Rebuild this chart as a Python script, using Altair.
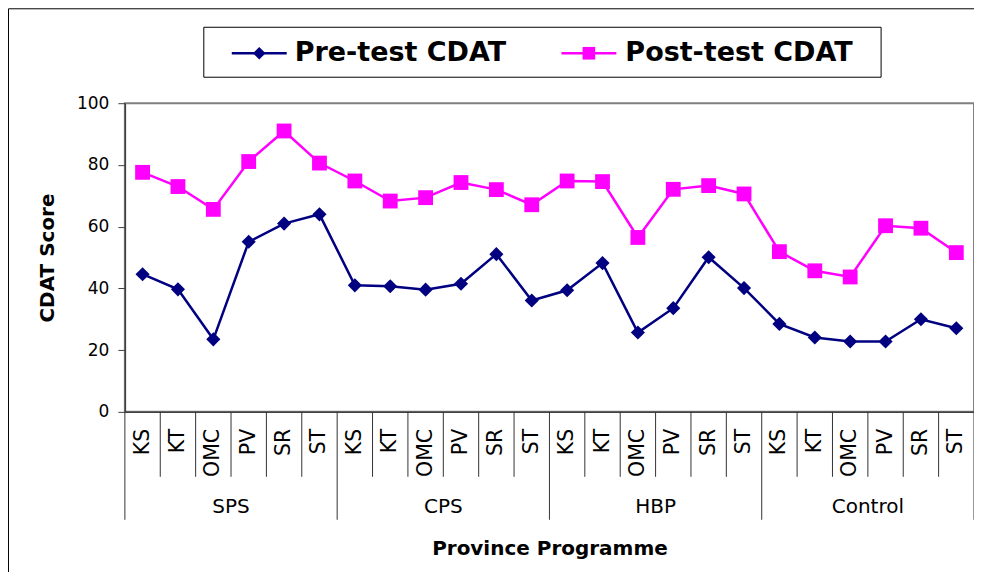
import altair as alt
import pandas as pd

# ---------------- data ----------------
groups = ["SPS", "CPS", "HBP", "Control"]
subcats = ["KS", "KT", "OMC", "PV", "SR", "ST"]
series_names = ["Pre-test CDAT", "Post-test CDAT"]
series_colors = ["#000080", "#FF00FF"]

pre = [44.6, 39.7, 23.5, 55.1, 61.0, 64.0,
       41.0, 40.7, 39.6, 41.5, 51.1, 36.1,
       39.4, 48.2, 25.7, 33.6, 50.1, 40.1,
       28.5, 24.1, 22.8, 22.8, 30.0, 27.1]
post = [77.6, 73.0, 65.6, 81.1, 91.0, 80.6,
        74.8, 68.3, 69.4, 74.3, 72.0, 67.1,
        74.8, 74.6, 56.5, 72.1, 73.3, 70.6,
        51.9, 45.7, 43.7, 60.3, 59.5, 51.6]

y_ticks = [0, 20, 40, 60, 80, 100]
x_title = "Province Programme"
y_title = "CDAT Score"

# ---------------- tables built from the lists ----------------
n_sub = len(subcats)
n_cat = len(groups) * n_sub
rows = []
for gi, g in enumerate(groups):
    for si, s in enumerate(subcats):
        idx = gi * n_sub + si
        rows.append({"idx": idx, "pos": idx + 0.5, "group": g, "sub": s})
cats = pd.DataFrame(rows)

long = pd.concat([
    cats.assign(series=series_names[0], value=pre),
    cats.assign(series=series_names[1], value=post),
], ignore_index=True)

group_df = pd.DataFrame({
    "group": groups,
    "center": [(gi + 0.5) * n_sub for gi in range(len(groups))],
})
bounds = pd.DataFrame({"b": list(range(0, n_cat + 1))})
bounds["major"] = bounds["b"] % n_sub == 0

FONT = "DejaVu Sans"
W, H = 850, 309

xs = alt.Scale(domain=[0, n_cat], nice=False, zero=False)
xaxis = alt.Axis(
    title=x_title, labels=False, ticks=False, grid=False,
    domainColor="#404040", domainWidth=1.5,
    titleFont=FONT, titleFontSize=20, titleFontWeight="bold", titleColor="black",
    titleY=137, titleBaseline="middle",
)
yaxis = alt.Axis(
    title=y_title, values=y_ticks, grid=False,
    tickSize=7, tickColor="#404040", tickWidth=1,
    domainColor="#404040", domainWidth=1.5,
    labelFont=FONT, labelFontSize=17, labelColor="black", labelPadding=9,
    titleFont=FONT, titleFontSize=20, titleFontWeight="bold", titleColor="black",
    titleX=-77, titleY=H / 2, titleAngle=270, titleBaseline="middle", titleAlign="center",
)
color_scale = alt.Scale(domain=series_names, range=series_colors)
yscale = alt.Scale(domain=[0, 100], nice=False)

base = alt.Chart(long)

lines = base.mark_line(strokeWidth=2.5).encode(
    x=alt.X("pos:Q", scale=xs, axis=xaxis),
    y=alt.Y("value:Q", scale=yscale, axis=yaxis),
    color=alt.Color("series:N", scale=color_scale, legend=None),
    detail="series:N",
)
pts_pre = base.transform_filter(alt.datum.series == series_names[0]).mark_point(
    shape="diamond", filled=True, size=200, opacity=1
).encode(
    x=alt.X("pos:Q", scale=xs, axis=xaxis),
    y=alt.Y("value:Q", scale=yscale, axis=yaxis),
    color=alt.Color("series:N", scale=color_scale, legend=None),
)
pts_post = base.transform_filter(alt.datum.series == series_names[1]).mark_point(
    shape="square", filled=True, size=220, opacity=1
).encode(
    x=alt.X("pos:Q", scale=xs, axis=xaxis),
    y=alt.Y("value:Q", scale=yscale, axis=yaxis),
    color=alt.Color("series:N", scale=color_scale, legend=None),
)

# x category labels (two levels) and separators
sub_labels = alt.Chart(cats).mark_text(
    angle=270, align="right", baseline="middle", font=FONT, fontSize=20.5, color="black"
).encode(
    x=alt.X("pos:Q", scale=xs, axis=xaxis),
    y=alt.value(326),
    text="sub:N",
)
grp_labels = alt.Chart(group_df).mark_text(
    align="center", baseline="middle", font=FONT, fontSize=20, color="black"
).encode(
    x=alt.X("center:Q", scale=xs, axis=xaxis),
    y=alt.value(404),
    text="group:N",
)
minor_sep = alt.Chart(bounds).transform_filter("!datum.major").mark_rule(
    color="#333333", strokeWidth=1
).encode(
    x=alt.X("b:Q", scale=xs, axis=xaxis),
    y=alt.value(H), y2=alt.value(374),
)
major_sep = alt.Chart(bounds).transform_filter("datum.major").mark_rule(
    color="#333333", strokeWidth=1
).encode(
    x=alt.X("b:Q", scale=xs, axis=xaxis),
    y=alt.value(H), y2=alt.value(417),
)

# manual legend
one = pd.DataFrame({"k": [0]})
leg_box = alt.Chart(one).mark_rect(fill="white", stroke="black", strokeWidth=1).encode(
    x=alt.value(79), x2=alt.value(757), y=alt.value(-76), y2=alt.value(-26)
)
legend_layers = [leg_box]
leg_line_x = [(107, 162), (437, 492)]
leg_text_x = [170, 501]
leg_shapes = ["diamond", "square"]
leg_sizes = [160, 160]
for k in range(2):
    x0, x1 = leg_line_x[k]
    legend_layers.append(alt.Chart(one).mark_rule(color=series_colors[k], strokeWidth=2.5).encode(
        x=alt.value(x0), x2=alt.value(x1), y=alt.value(-50)))
    legend_layers.append(alt.Chart(one).mark_point(
        shape=leg_shapes[k], filled=True, size=leg_sizes[k], color=series_colors[k], opacity=1
    ).encode(x=alt.value((x0 + x1) / 2), y=alt.value(-50)))
    legend_layers.append(alt.Chart(one).mark_text(
        align="left", baseline="middle", font=FONT, fontSize=27, fontWeight="bold", color="black"
    ).encode(x=alt.value(leg_text_x[k]), y=alt.value(-50), text=alt.value(series_names[k])))

# outer chart border (left and top edges visible)
border_left = alt.Chart(one).mark_rule(color="black", strokeWidth=1).encode(
    x=alt.value(-116.5), y=alt.value(-94.5), y2=alt.value(H + 170))
border_top = alt.Chart(one).mark_rule(color="black", strokeWidth=1).encode(
    x=alt.value(-116.5), x2=alt.value(W + 10), y=alt.value(-94.5))

chart = alt.layer(
    border_left, border_top,
    minor_sep, major_sep, sub_labels, grp_labels,
    lines, pts_pre, pts_post,
    *legend_layers,
).properties(
    width=W, height=H,
    autosize=alt.AutoSizeParams(type="none"),
    padding={"left": 117, "top": 95, "right": 0, "bottom": 160},
    background="white",
).configure_view(
    stroke="#808080", strokeWidth=2
)

chart.save("out.html", embed_options={"renderer": "svg", "actions": False})
